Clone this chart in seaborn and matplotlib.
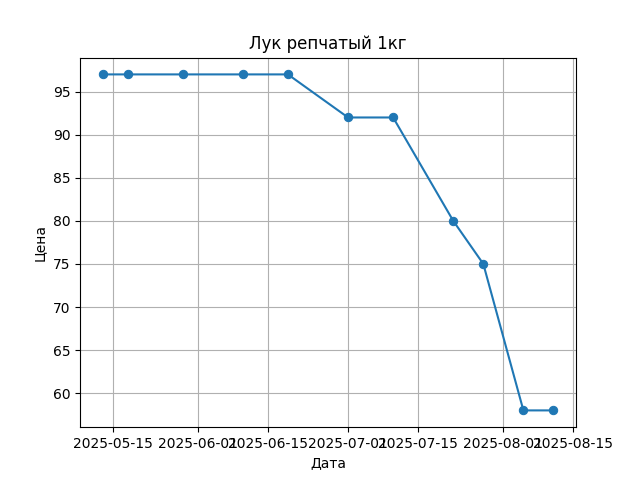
import pandas as pd
import matplotlib
matplotlib.use("Agg")
import matplotlib.pyplot as plt
import seaborn as sns

# Prices
dates = ["2025-05-13", "2025-05-18", "2025-05-29", "2025-06-10", "2025-06-19",
         "2025-07-01", "2025-07-10", "2025-07-22", "2025-07-28", "2025-08-05",
         "2025-08-11"]
prices = [97, 97, 97, 97, 97, 92, 92, 80, 75, 58, 58]

df = pd.DataFrame({"date": pd.to_datetime(dates), "price": prices})

fig, ax = plt.subplots(figsize=(6.4, 4.8), dpi=100)
sns.lineplot(data=df, x="date", y="price", marker="o", markersize=6,
             markeredgecolor="#1f77b4", color="#1f77b4", ax=ax)

ax.set_title("Лук репчатый 1кг")
ax.set_xlabel("Дата")
ax.set_ylabel("Цена")
ax.grid(True)

fig.savefig("out.png")
